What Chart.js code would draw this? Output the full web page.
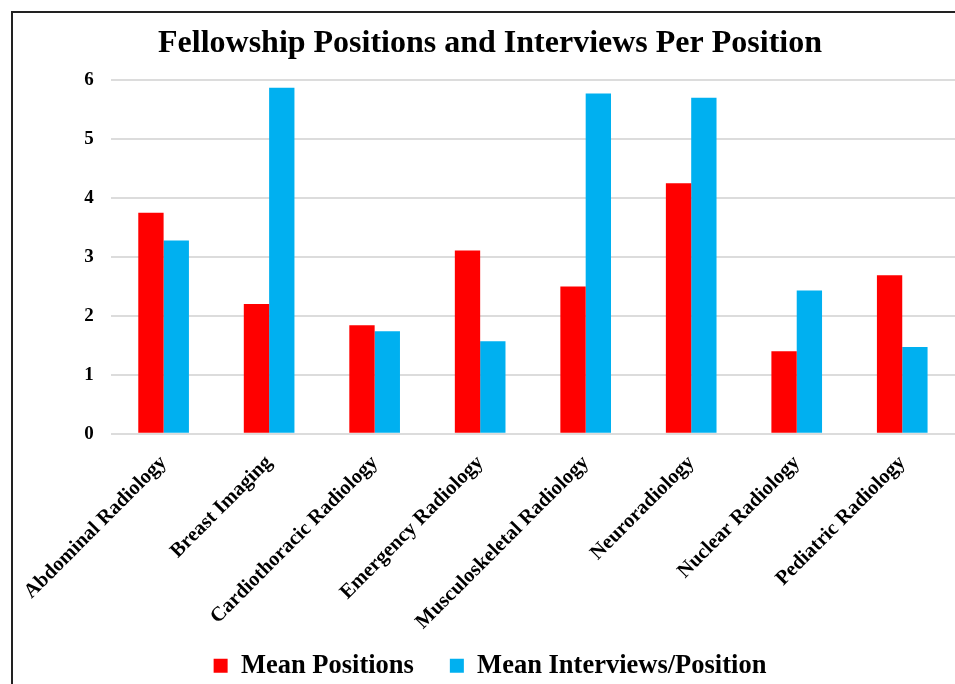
<!DOCTYPE html>
<html>
<head>
<meta charset="utf-8">
<script src="https://cdn.jsdelivr.net/npm/chart.js@4/dist/chart.umd.min.js"></script>
<style>
  html, body { margin: 0; padding: 0; background: #fff; overflow: hidden; width: 955px; height: 684px; }
  #frame {
    position: absolute; left: 11px; top: 11px;
    width: 960px; height: 710px;
    border-left: 2px solid #222; border-top: 2px solid #222;
  }
  #chartCanvas { display: block; }
</style>
</head>
<body>
<div id="frame">
  <canvas id="chartCanvas" width="960" height="703"></canvas>
</div>
<script>
// Values
const categories = [
  'Abdominal Radiology', 'Breast Imaging', 'Cardiothoracic Radiology', 'Emergency Radiology',
  'Musculoskeletal Radiology', 'Neuroradiology', 'Nuclear Radiology', 'Pediatric Radiology'
];
const meanPositions = [3.75, 2.20, 1.84, 3.11, 2.50, 4.25, 1.40, 2.69];
const meanInterviewsPerPosition = [3.28, 5.87, 1.74, 1.57, 5.77, 5.70, 2.43, 1.47];
const yTicks = [0, 1, 2, 3, 4, 5, 6];

const serif = "'Liberation Serif', 'Times New Roman', serif";

// legend sits closer to the rotated labels than its padding allows, pull it up a bit
const legendNudge = {
  id: 'legendNudge',
  afterLayout: (chart) => {
    const lg = chart.legend;
    if (!lg) return;
    lg.top -= 27;
    lg.bottom -= 27;
  }
};

const ctx = document.getElementById('chartCanvas').getContext('2d');

new Chart(ctx, {
  type: 'bar',
  data: {
    labels: categories,
    datasets: [
      {
        label: 'Mean Positions',
        data: meanPositions,
        backgroundColor: '#ff0000',
        borderWidth: 0
      },
      {
        label: 'Mean Interviews/Position',
        data: meanInterviewsPerPosition,
        backgroundColor: '#00b0f0',
        borderWidth: 0
      }
    ]
  },
  plugins: [legendNudge],
  options: {
    responsive: false,
    animation: false,
    layout: { padding: { left: 12, right: 18, top: 0, bottom: 0 } },
    datasets: {
      bar: { categoryPercentage: 0.48, barPercentage: 1.0 }
    },
    plugins: {
      title: {
        display: true,
        text: 'Fellowship Positions and Interviews Per Position',
        color: '#000',
        font: { family: serif, size: 32, weight: 'bold' },
        padding: { top: 12, bottom: 16.6 }
      },
      legend: {
        position: 'bottom',
        labels: {
          color: '#000',
          font: { family: serif, size: 26.5, weight: 'bold' },
          boxWidth: 14,
          boxHeight: 14,
          padding: 36
        }
      },
      tooltip: { enabled: false }
    },
    scales: {
      x: {
        grid: { display: false },
        border: { display: false },
        ticks: {
          color: '#000',
          font: { family: serif, size: 20.5, weight: 'bold' },
          minRotation: 45,
          maxRotation: 45,
          padding: 9,
          autoSkip: false
        }
      },
      y: {
        min: yTicks[0],
        max: yTicks[yTicks.length - 1],
        afterFit: (scale) => { scale.width = 82; },
        afterBuildTicks: (scale) => { scale.ticks = yTicks.map(v => ({ value: v })); },
        grid: { color: '#dcdcdc', lineWidth: 2, drawTicks: false },
        border: { display: false },
        ticks: {
          color: '#000',
          font: { family: serif, size: 19, weight: 'bold' },
          padding: 17
        }
      }
    }
  }
});
</script>
</body>
</html>
